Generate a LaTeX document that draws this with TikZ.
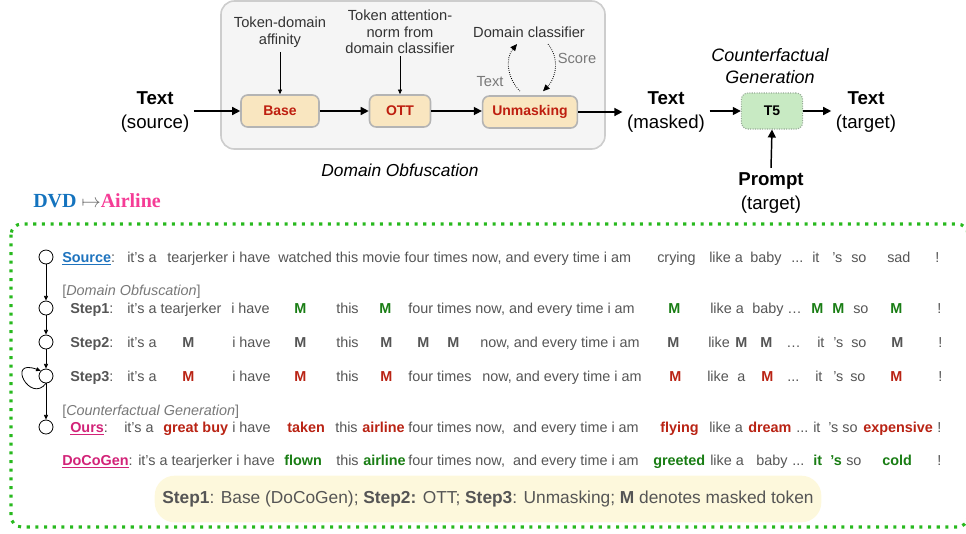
\documentclass[tikz,border=0pt]{standalone}
\usepackage{fontspec}
\setmainfont{Liberation Sans}
\newfontfamily\titleserif{Liberation Serif}
\usepackage{tikz}
\usetikzlibrary{arrows.meta,positioning,calc}
\definecolor{txtgray}{RGB}{85,85,85}
\definecolor{notegray}{RGB}{120,120,120}
\definecolor{tokgreen}{RGB}{25,125,20}
\definecolor{tokred}{RGB}{185,35,20}
\definecolor{srcblue}{RGB}{30,115,190}
\definecolor{pinkred}{RGB}{210,35,120}
\definecolor{dvdblue}{RGB}{20,115,190}
\definecolor{airpink}{RGB}{245,60,150}
\definecolor{boxgreen}{RGB}{40,185,30}
\definecolor{stagefill}{RGB}{249,230,192}
\definecolor{stageline}{RGB}{180,180,180}
\definecolor{stagered}{RGB}{190,30,15}
\definecolor{panelfill}{RGB}{245,245,245}
\definecolor{panelline}{RGB}{205,205,205}
\definecolor{genfill}{RGB}{200,234,195}
\definecolor{genline}{RGB}{150,170,150}
\definecolor{keyfill}{RGB}{253,248,220}
\newcommand{\rowsize}{\fontsize{10.8}{13}\selectfont}
\newcommand{\iosize}{\fontsize{14}{18}\selectfont}
\newcommand{\notesize}{\fontsize{11}{12.5}\selectfont}

\tikzset{
  stage/.style={draw=stageline, fill=stagefill, rounded corners=5pt, line width=1.2pt,
    minimum height=24pt, inner sep=0pt, font=\fontsize{10.5}{12}\selectfont\bfseries, text=stagered},
  flow/.style={-{Triangle[length=6pt,width=6pt]}, line width=1.1pt},
  hop/.style={-{Triangle[length=3.5pt,width=3pt]}, line width=0.6pt},
  cycle/.style={-{Triangle[length=5pt,width=4.5pt]}, line width=0.6pt, densely dotted},
  note/.style={align=center, font=\notesize, text=black!80},
  io/.style={align=center, font=\iosize},
  tok/.style={anchor=base west, inner sep=0pt, font=\rowsize, text=txtgray},
  mg/.style={tok, text=tokgreen, font=\rowsize\bfseries},
  mr/.style={tok, text=tokred, font=\rowsize\bfseries},
  mk/.style={tok, font=\rowsize\bfseries},
  state/.style={circle, draw, line width=0.6pt, minimum size=10.5pt, inner sep=0pt},
}

\begin{document}
\begin{tikzpicture}[x=0.75pt, y=-0.75pt]
  \useasboundingbox (0,0) rectangle (966,533);

  % domain obfuscation panel
  \node[draw=panelline, fill=panelfill, line width=1.2pt, rounded corners=10pt,
    minimum width=288pt, minimum height=111pt, inner sep=0pt] (obf) at (413,75) {};
  \node[font=\fontsize{13}{15}\selectfont\itshape] (obflab) at (400,170) {Domain Obfuscation};

  \node[stage, minimum width=58.5pt] (base) at (280,111) {Base};
  \node[stage, minimum width=45.75pt] (ott) at (400,111) {OTT};
  \node[stage, minimum width=71pt] (unmask) at (530,112) {Unmasking};

  \node[note] (affin) at (280,32) {Token-domain\\affinity};
  \node[note] (attn) at (400,32) {Token attention-\\norm from\\domain classifier};
  \node[note] (dcls) at (529,32) {Domain classifier};
  \node[font=\notesize, text=notegray] (clsin) at (490,82) {Text};
  \node[font=\notesize, text=notegray] (clsout) at (577,58) {Score};

  \draw[hop] (affin.south) -- (base.north);
  \draw[hop] ($(attn.south)+(0,-3)$) -- (ott.north);
  \draw[cycle] ($(unmask.north)+(-10,-4)$) to[out=135, in=230] ($(dcls.south)+(-12,2)$);
  \draw[cycle] ($(dcls.south)+(19,2)$) to[out=-50, in=45] ($(unmask.north)+(13,-4)$);

  % text in, masked text out, generation
  \node[io] (src) at (155,112) {\textbf{Text}\\(source)};
  \node[io] (masked) at (666,112) {\textbf{Text}\\(masked)};
  \node[io] (target) at (866,112) {\textbf{Text}\\(target)};
  \node[draw=genline, fill=genfill, densely dotted, line width=0.8pt, rounded corners=5pt,
    minimum width=46pt, minimum height=27pt, font=\fontsize{10.5}{12}\selectfont\bfseries] (t5) at (772,111) {T5};
  \node[align=center, font=\fontsize{13.5}{16}\selectfont\itshape] (cfg) at (770,66) {Counterfactual\\Generation};
  \node[io] (prompt) at (771,193) {\textbf{Prompt}\\(target)};

  \draw[flow] (src.east |- base.west) -- (base.west);
  \draw[flow] (base) -- (ott);
  \draw[flow] (ott.east) -- (unmask.west |- ott.east);
  \draw[flow] (unmask.east) -- (masked.west |- unmask.east);
  \draw[flow] (masked.east |- t5.west) -- (t5.west);
  \draw[flow] (t5.east) -- (target.west |- t5.east);
  \draw[flow] (prompt.north) -- (t5.south);

  % example panel
  \node[anchor=base west, inner sep=0pt, font=\titleserif\fontsize{15}{18}\selectfont\bfseries] (pair)
    at (33,207) {\textcolor{dvdblue}{DVD} \textcolor{black!60}{$\mapsto$}\textcolor{airpink}{Airline}};
  \draw[boxgreen, line width=2.3pt, dash pattern=on 2.3pt off 4.2pt, rounded corners=8pt]
    (11,224) rectangle (968,527);

  \node[state] (c0) at (46,257) {};
  \node[state] (c1) at (46,308) {};
  \node[state] (c2) at (46,342) {};
  \node[state] (c3) at (46,376) {};
  \node[state] (c4) at (46,427) {};
  \draw[hop] (c0) -- (c1);
  \draw[hop] (c1) -- (c2);
  \draw[hop] (c2) -- (c3);
  \draw[hop] (c3) -- (c4);
  \draw[hop] (c3.south) .. controls (30,404) and (6,358) .. (c3.north west);

  \node[tok, text=srcblue, font=\rowsize\bfseries] (lsrc) at (62,262) {\underline{Source}\textcolor{txtgray}{\mdseries:}};
  \foreach \x/\sty/\tkn [count=\i] in {127/tok/{it's a}, 167/tok/{tearjerker i have},
      278/tok/{watched this movie four times now, and every time i am}, 657/tok/crying,
      709/tok/{like a}, 750/tok/baby, 791/tok/{...}, 812/tok/it, 832/tok/{'s}, 851/tok/so,
      887/tok/sad, 935/tok/!}
    \node[\sty] (r0-\i) at (\x,262) {\tkn};

  \node[tok, text=notegray] (hobf) at (62,295) {[\textit{Domain Obfuscation}]};

  \node[mk] (lst1) at (70,313) {Step1\mdseries:};
  \foreach \x/\sty/\tkn [count=\i] in {127/tok/{it's a tearjerker}, 231/tok/{i have}, 294/mg/M,
      336/tok/this, 379/mg/M, 408/tok/{four times now, and every time i am}, 668/mg/M,
      710/tok/{like a}, 752/tok/baby, 787/tok/{\dots}, 811/mg/M, 832/mg/M, 853/tok/so,
      890/mg/M, 937/tok/!}
    \node[\sty] (r1-\i) at (\x,313) {\tkn};

  \node[mk] (lst2) at (70,347) {Step2\mdseries:};
  \foreach \x/\sty/\tkn [count=\i] in {127/tok/{it's a}, 182/mk/M, 232/tok/{i have}, 294/mk/M,
      336/tok/this, 380/mk/M, 417/mk/M, 447/mk/M, 480/tok/{now, and every time i am},
      667/mk/M, 708/tok/like, 735/mk/M, 760/mk/M, 786/tok/{\dots}, 817/tok/it, 833/tok/{'s},
      851/tok/so, 891/mk/M, 938/tok/!}
    \node[\sty] (r2-\i) at (\x,347) {\tkn};

  \node[mk] (lst3) at (70,381) {Step3\mdseries:};
  \foreach \x/\sty/\tkn [count=\i] in {127/tok/{it's a}, 182/mr/M, 232/tok/{i have}, 294/mr/M,
      336/tok/this, 380/mr/M, 408/tok/{four times}, 482/tok/{now, and every time i am},
      669/mr/M, 707/tok/like, 737/tok/a, 761/mr/M, 787/tok/{...}, 815/tok/it, 833/tok/{'s},
      850/tok/so, 890/mr/M, 938/tok/!}
    \node[\sty] (r3-\i) at (\x,381) {\tkn};

  \node[tok, text=notegray] (hcfg) at (62,415) {[\textit{Counterfactual Generation}]};

  \node[tok, text=pinkred, font=\rowsize\bfseries] (lours) at (70,432) {\underline{Ours}\textcolor{txtgray}{\mdseries:}};
  \foreach \x/\sty/\tkn [count=\i] in {124/tok/{it's a}, 163/mr/{great buy}, 232/tok/{i have},
      287/mr/taken, 335/tok/this, 362/mr/airline, 408/tok/{four times now,~ and every time i am},
      660/mr/flying, 709/tok/{like a}, 748/mr/dream, 796/tok/{...}, 813/tok/it,
      828/tok/{'s so}, 863/mr/expensive, 937/tok/!}
    \node[\sty] (r4-\i) at (\x,432) {\tkn};

  \node[tok, text=pinkred, font=\rowsize\bfseries] (ldcg) at (62,465) {\underline{DoCoGen}\textcolor{txtgray}{\mdseries:}};
  \foreach \x/\sty/\tkn [count=\i] in {138/tok/{it's a tearjerker i have}, 284/mg/flown,
      336/tok/this, 363/mg/airline, 408/tok/{four times now,~ and every time i am},
      653/mg/greeted, 710/tok/{like a}, 756/tok/baby, 792/tok/{...}, 813/mg/it, 830/mg/{'s},
      846/tok/so, 882/mg/cold, 937/tok/!}
    \node[\sty] (r5-\i) at (\x,465) {\tkn};

  % legend
  \node[fill=keyfill, rounded corners=15pt, minimum width=500pt, minimum height=35pt,
    font=\fontsize{13}{15}\selectfont, text=txtgray] (key) at (488,499)
    {\textbf{Step1}: Base (DoCoGen); \textbf{Step2:} OTT; \textbf{Step3}: Unmasking; \textbf{M} denotes masked token};
\end{tikzpicture}
\end{document}
